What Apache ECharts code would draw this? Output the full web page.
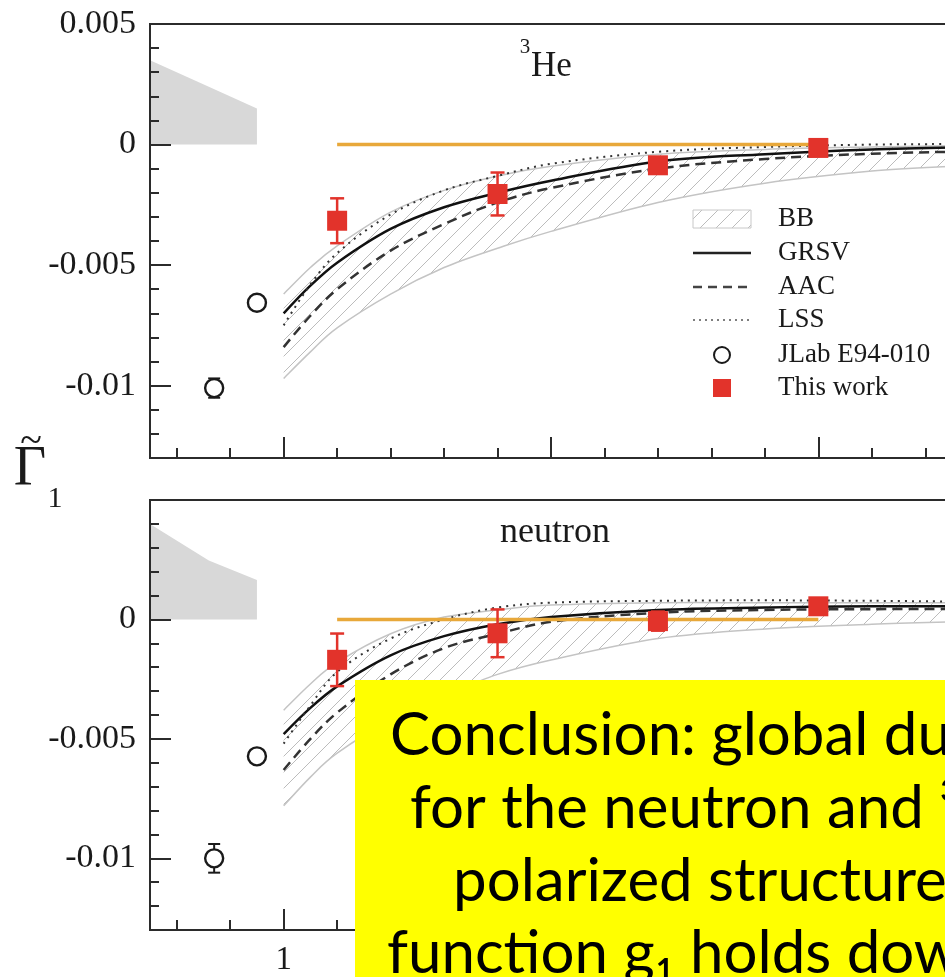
<!DOCTYPE html>
<html>
<head>
<meta charset="utf-8">
<script src="https://cdn.jsdelivr.net/npm/echarts@6/dist/echarts.min.js"></script>
<style>
  html, body { margin: 0; padding: 0; overflow: hidden; background: #ffffff; }
  #chart { width: 1000px; height: 977px; }
</style>
</head>
<body>
<div id="chart"></div>
<script>
// Q^2 (GeV^2) grid on which the model curves are tabulated
const qModel = [1.0, 1.1, 1.2, 1.4, 1.6, 1.8, 2.0, 2.4, 2.8, 3.2, 3.5];

// 3He: model predictions of the resonance-region integral
const he3GRSV  = [-0.0070, -0.00585, -0.0049, -0.0035, -0.0026, -0.0020, -0.0015, -0.0007, -0.0004, -0.0002, -0.00012];
const he3AAC   = [-0.0084, -0.0071, -0.0060, -0.0044, -0.0033, -0.0024, -0.0018, -0.0010, -0.0006, -0.00038, -0.0003];
const he3LSS   = [-0.0075, -0.0058, -0.0045, -0.0029, -0.0019, -0.0013, -0.0008, -0.0003, -0.0001, 0.0, 0.00002];
const he3BBHigh = [-0.0062, -0.0051, -0.0042, -0.0028, -0.0019, -0.0013, -0.0009, -0.0004, -0.0002, -0.0001, -0.00005];
const he3BBLow  = [-0.0097, -0.0086, -0.0076, -0.0062, -0.0051, -0.0043, -0.0036, -0.0024, -0.0016, -0.0011, -0.0009];

// neutron: model predictions
const nGRSV  = [-0.0048, -0.0037, -0.0028, -0.0015, -0.0007, -0.0002, 0.0001, 0.0004, 0.0005, 0.00055, 0.00055];
const nAAC   = [-0.0063, -0.0050, -0.0039, -0.0023, -0.0012, -0.0006, -0.0001, 0.00028, 0.0004, 0.00043, 0.00044];
const nLSS   = [-0.0052, -0.0036, -0.0022, -0.0008, 0.0, 0.0005, 0.0007, 0.00078, 0.0008, 0.00078, 0.00075];
const nBBHigh = [-0.0038, -0.0027, -0.0018, -0.0006, 0.0001, 0.0004, 0.0006, 0.0007, 0.0007, 0.0007, 0.0007];
const nBBLow  = [-0.0078, -0.0066, -0.0056, -0.0042, -0.0032, -0.0023, -0.0017, -0.0008, -0.0004, -0.0002, -0.0001];

// shaded region at low Q^2
const qShade = [0.5, 0.72, 0.9];
const he3Shade = [0.0035, 0.0024, 0.0015];
const nShade = [0.0040, 0.00247, 0.00165];

// JLab E94-010
const qJLab = [0.74, 0.90];
const he3JLab = [-0.0101, -0.00656];
const he3JLabErr = [0.0004, 0.0002];
const nJLab = [-0.0100, -0.00573];
const nJLabErr = [0.0006, 0.0002];

// This work
const qThisWork = [1.2, 1.8, 2.4, 3.0];
const he3ThisWork = [-0.00316, -0.00205, -0.00086, -0.00014];
const he3ThisWorkErr = [0.00093, 0.00089, 0.0002, 0.0001];
const nThisWork = [-0.00169, -0.00058, -0.00007, 0.00055];
const nThisWorkErr = [0.0011, 0.0010, 0.0004, 0.0001];

// horizontal reference segment
const qRef = [1.2, 3.0];
const refValue = [0, 0];

// axis ticks
const xMajor = [1, 2, 3];
const xMinor = [0.6, 0.8, 1.2, 1.4, 1.6, 1.8, 2.2, 2.4, 2.6, 2.8, 3.2, 3.4];
const yMajorTop = [-0.01, -0.005, 0, 0.005];
const yMajorBottom = [-0.01, -0.005, 0];
const yMinor = [-0.012, -0.011, -0.009, -0.008, -0.007, -0.006, -0.004, -0.003, -0.002, -0.001, 0.001, 0.002, 0.003, 0.004];

const legendNames = ['BB', 'GRSV', 'AAC', 'LSS', 'JLab E94-010', 'This work'];
const boxLines = ['Conclusion: global duality', 'for the neutron and \u00b3He', 'polarized structure', 'function g\u2081 holds down to'];

const SERIF = '"Liberation Serif", "Times New Roman", serif';
const INK = '#1a1a1a';
const AXIS = '#2b2b2b';
const RED = '#e2332b';
const ORANGE = '#e8a83a';
const BAND = '#c4c4c4';

function hatch() {
  const s = 16;
  const c = document.createElement('canvas');
  c.width = s; c.height = s;
  const g = c.getContext('2d');
  g.strokeStyle = '#bcbcbc';
  g.lineWidth = 1;
  g.beginPath();
  g.moveTo(0, s); g.lineTo(s, 0);
  g.moveTo(-s / 2, s / 2); g.lineTo(s / 2, -s / 2);
  g.moveTo(s / 2, s + s / 2); g.lineTo(s + s / 2, s / 2);
  g.stroke();
  return c;
}
const hatchImg = hatch();

const X_MIN = 0.5, X_MAX = 3.5, Y_MIN = -0.013, Y_MAX = 0.005;

function xAxes(grid, labels) {
  return [
    {
      type: 'value', gridIndex: grid, min: X_MIN, max: X_MAX, position: 'bottom', z: 8,
      axisLine: { show: true, onZero: false, lineStyle: { color: AXIS, width: 2 } },
      axisTick: { show: true, inside: true, length: 21, customValues: xMajor, lineStyle: { color: AXIS, width: 2 } },
      axisLabel: { show: labels, customValues: xMajor, margin: 14, fontFamily: SERIF, fontSize: 33, color: INK },
      splitLine: { show: false }
    },
    {
      type: 'value', gridIndex: grid, min: X_MIN, max: X_MAX, position: 'bottom', offset: 0, z: 8,
      axisLine: { show: false, onZero: false },
      axisTick: { show: true, inside: true, length: 10, customValues: xMinor, lineStyle: { color: AXIS, width: 2 } },
      axisLabel: { show: false },
      splitLine: { show: false }
    }
  ];
}
function yAxes(grid, majors) {
  return [
    {
      type: 'value', gridIndex: grid, min: Y_MIN, max: Y_MAX, position: 'left', z: 8,
      axisLine: { show: true, onZero: false, lineStyle: { color: AXIS, width: 2 } },
      axisTick: { show: true, inside: true, length: 21, customValues: majors, lineStyle: { color: AXIS, width: 2 } },
      axisLabel: {
        show: true, customValues: majors, margin: 14, padding: [5, 0, 0, 0],
        fontFamily: SERIF, fontSize: 34, color: INK,
        formatter: v => (Math.abs(v) < 1e-12 ? '0' : String(+v.toFixed(4)))
      },
      splitLine: { show: false }
    },
    {
      type: 'value', gridIndex: grid, min: Y_MIN, max: Y_MAX, position: 'left', offset: 0, z: 8,
      axisLine: { show: false, onZero: false },
      axisTick: { show: true, inside: true, length: 9, customValues: yMinor, lineStyle: { color: AXIS, width: 2 } },
      axisLabel: { show: false },
      splitLine: { show: false }
    }
  ];
}

function pairs(xs, ys) { return xs.map((x, i) => [x, ys[i]]); }

// Catmull-Rom spline through pixel points, as SVG path commands
function spline(pts, lead) {
  let d = lead + pts[0][0] + ' ' + pts[0][1];
  for (let i = 0; i < pts.length - 1; i++) {
    const p0 = pts[i - 1] || pts[i], p1 = pts[i], p2 = pts[i + 1], p3 = pts[i + 2] || pts[i + 1];
    const c1x = p1[0] + (p2[0] - p0[0]) / 6, c1y = p1[1] + (p2[1] - p0[1]) / 6;
    const c2x = p2[0] - (p3[0] - p1[0]) / 6, c2y = p2[1] - (p3[1] - p1[1]) / 6;
    d += ' C' + c1x + ' ' + c1y + ' ' + c2x + ' ' + c2y + ' ' + p2[0] + ' ' + p2[1];
  }
  return d;
}

// hatched uncertainty band between two tabulated curves
function bandSeries(xi, yi, xs, lo, hi) {
  return {
    type: 'custom', xAxisIndex: xi, yAxisIndex: yi, z: 2, silent: true, clip: true,
    encode: { x: 0, y: [1, 2] },
    data: xs.map((x, i) => [x, lo[i], hi[i]]),
    renderItem(params, api) {
      if (params.dataIndex !== 0) return null;
      const up = xs.map((x, i) => api.coord([x, hi[i]]));
      const dn = xs.map((x, i) => api.coord([x, lo[i]]));
      const fillPath = spline(up, 'M') + ' ' + spline(dn.slice().reverse(), 'L') + ' Z';
      return {
        type: 'group',
        children: [
          { type: 'path', shape: { pathData: fillPath }, style: { fill: { image: hatchImg, repeat: 'repeat' }, stroke: null } },
          { type: 'path', shape: { pathData: spline(up, 'M') }, style: { fill: null, stroke: BAND, lineWidth: 1.5 } },
          { type: 'path', shape: { pathData: spline(dn, 'M') }, style: { fill: null, stroke: BAND, lineWidth: 1.5 } }
        ]
      };
    }
  };
}

function errorBars(xi, yi, xs, ys, es, color, cap, width) {
  return {
    type: 'custom', xAxisIndex: xi, yAxisIndex: yi, z: 5, silent: true,
    encode: { x: 0, y: [1, 2] },
    data: xs.map((x, i) => [x, ys[i] - es[i], ys[i] + es[i]]),
    renderItem(params, api) {
      const lo = api.coord([api.value(0), api.value(1)]);
      const hi = api.coord([api.value(0), api.value(2)]);
      const h = cap / 2;
      const st = { stroke: color, lineWidth: width };
      return {
        type: 'group',
        children: [
          { type: 'line', shape: { x1: lo[0], y1: lo[1], x2: hi[0], y2: hi[1] }, style: st },
          { type: 'line', shape: { x1: lo[0] - h, y1: lo[1], x2: lo[0] + h, y2: lo[1] }, style: st },
          { type: 'line', shape: { x1: hi[0] - h, y1: hi[1], x2: hi[0] + h, y2: hi[1] }, style: st }
        ]
      };
    }
  };
}

function panelSeries(xi, yi, tag, d) {
  return [
    {
      name: 'shade-' + tag, type: 'line', xAxisIndex: xi, yAxisIndex: yi, data: pairs(qShade, d.shade),
      showSymbol: false, lineStyle: { width: 0 }, areaStyle: { color: '#d8d8d8', opacity: 1, origin: 0 }, z: 1, silent: true
    },
    bandSeries(xi, yi, qModel, d.bbLow, d.bbHigh),
    {
      name: 'GRSV-' + tag, type: 'line', xAxisIndex: xi, yAxisIndex: yi, data: pairs(qModel, d.grsv),
      smooth: 0.35, showSymbol: false, lineStyle: { color: '#111', width: 2.5 }, z: 3, silent: true
    },
    {
      name: 'AAC-' + tag, type: 'line', xAxisIndex: xi, yAxisIndex: yi, data: pairs(qModel, d.aac),
      smooth: 0.35, showSymbol: false, lineStyle: { color: '#333', width: 2.5, type: [10, 6] }, z: 3, silent: true
    },
    {
      name: 'LSS-' + tag, type: 'line', xAxisIndex: xi, yAxisIndex: yi, data: pairs(qModel, d.lss),
      smooth: 0.35, showSymbol: false, lineStyle: { color: '#333', width: 2, type: [2, 5] }, z: 3, silent: true
    },
    {
      name: 'ref-' + tag, type: 'line', xAxisIndex: xi, yAxisIndex: yi, data: pairs(qRef, refValue),
      showSymbol: false, lineStyle: { color: ORANGE, width: 3.5 }, z: 4, silent: true
    },
    errorBars(xi, yi, qJLab, d.jlab, d.jlabErr, '#1a1a1a', 12, 2),
    {
      name: 'JLab-' + tag, type: 'scatter', xAxisIndex: xi, yAxisIndex: yi, data: pairs(qJLab, d.jlab),
      symbol: 'circle', symbolSize: 18,
      itemStyle: { color: '#fff', borderColor: '#1a1a1a', borderWidth: 2.4, opacity: 1 }, z: 6, silent: true
    },
    errorBars(xi, yi, qThisWork, d.tw, d.twErr, RED, 14, 2.5),
    {
      name: 'ThisWork-' + tag, type: 'scatter', xAxisIndex: xi, yAxisIndex: yi, data: pairs(qThisWork, d.tw),
      symbol: 'rect', symbolSize: 20, itemStyle: { color: RED, opacity: 1 }, z: 7, silent: true
    }
  ];
}

const series = [].concat(
  panelSeries(0, 0, 'he3', {
    shade: he3Shade, bbLow: he3BBLow, bbHigh: he3BBHigh, grsv: he3GRSV, aac: he3AAC, lss: he3LSS,
    jlab: he3JLab, jlabErr: he3JLabErr, tw: he3ThisWork, twErr: he3ThisWorkErr
  }),
  panelSeries(2, 2, 'n', {
    shade: nShade, bbLow: nBBLow, bbHigh: nBBHigh, grsv: nGRSV, aac: nAAC, lss: nLSS,
    jlab: nJLab, jlabErr: nJLabErr, tw: nThisWork, twErr: nThisWorkErr
  })
);

// legend drawn with graphic elements
const LX = 693, LW = 58, TX = 778;
const LY = [219, 253, 287, 320, 355, 388];
const legendGraphics = [
  { type: 'rect', shape: { x: LX, y: LY[0] - 9, width: LW, height: 18 }, style: { fill: { image: hatchImg, repeat: 'repeat' }, stroke: '#c8c8c8', lineWidth: 1 } },
  { type: 'line', shape: { x1: LX, y1: LY[1], x2: LX + LW, y2: LY[1] }, style: { stroke: '#222', lineWidth: 2.5 } },
  { type: 'line', shape: { x1: LX, y1: LY[2], x2: LX + LW, y2: LY[2] }, style: { stroke: '#444', lineWidth: 2.5, lineDash: [9, 6] } },
  { type: 'line', shape: { x1: LX, y1: LY[3], x2: LX + LW, y2: LY[3] }, style: { stroke: '#555', lineWidth: 1.5, lineDash: [2, 4] } },
  { type: 'circle', shape: { cx: LX + 29, cy: LY[4], r: 8 }, style: { fill: '#fff', stroke: '#1a1a1a', lineWidth: 2 } },
  { type: 'rect', shape: { x: LX + 20, y: LY[5] - 9, width: 18, height: 18 }, style: { fill: RED } }
].concat(legendNames.map((t, i) => ({
  type: 'text', x: TX, y: LY[i],
  style: { text: t, fontFamily: SERIF, fontSize: 27, fill: INK, verticalAlign: 'middle', align: 'left' }
})));

const boxX = [390, 410, 453, 387];
const boxY = [736, 809, 882, 954];

const graphics = [].concat(
  [
    // panel labels
    { type: 'text', x: 525, y: 47, style: { text: '3', fontFamily: SERIF, fontSize: 21, fill: INK, align: 'center', verticalAlign: 'middle' } },
    { type: 'text', x: 531, y: 67, style: { text: 'He', fontFamily: SERIF, fontSize: 35, fill: INK, align: 'left', verticalAlign: 'middle' } },
    { type: 'text', x: 555, y: 533, style: { text: 'neutron', fontFamily: SERIF, fontSize: 36, fill: INK, align: 'center', verticalAlign: 'middle' } },
    // y-axis name
    { type: 'text', x: 31, y: 442, style: { text: '~', fontFamily: SERIF, fontSize: 40, fill: INK, align: 'center', verticalAlign: 'middle' } },
    { type: 'text', x: 30, y: 470, style: { text: '\u0393', fontFamily: SERIF, fontSize: 56, fill: INK, align: 'center', verticalAlign: 'middle' } },
    { type: 'text', x: 55, y: 499, style: { text: '1', fontFamily: SERIF, fontSize: 30, fill: INK, align: 'center', verticalAlign: 'middle' } }
  ],
  legendGraphics,
  [
    { type: 'rect', z: 100, shape: { x: 355, y: 680, width: 700, height: 400 }, style: { fill: '#ffff00' } }
  ],
  boxLines.map((t, i) => ({
    type: 'text', z: 101, x: boxX[i], y: boxY[i],
    style: { text: t, fontFamily: 'Lato, "Open Sans", sans-serif', fontSize: 60, fill: '#000', align: 'left', verticalAlign: 'middle' }
  }))
);

const chart = echarts.init(document.getElementById('chart'), null, { renderer: 'canvas' });
chart.setOption({
  animation: false,
  backgroundColor: '#ffffff',
  grid: [
    { left: 150, top: 24, width: 802, height: 434, show: true, borderColor: AXIS, borderWidth: 2, containLabel: false },
    { left: 150, top: 500, width: 802, height: 433, show: true, borderColor: AXIS, borderWidth: 2, containLabel: false }
  ],
  xAxis: [].concat(xAxes(0, false), xAxes(1, true)),
  yAxis: [].concat(yAxes(0, yMajorTop), yAxes(1, yMajorBottom)),
  series: series,
  graphic: { elements: graphics }
});
</script>
</body>
</html>
